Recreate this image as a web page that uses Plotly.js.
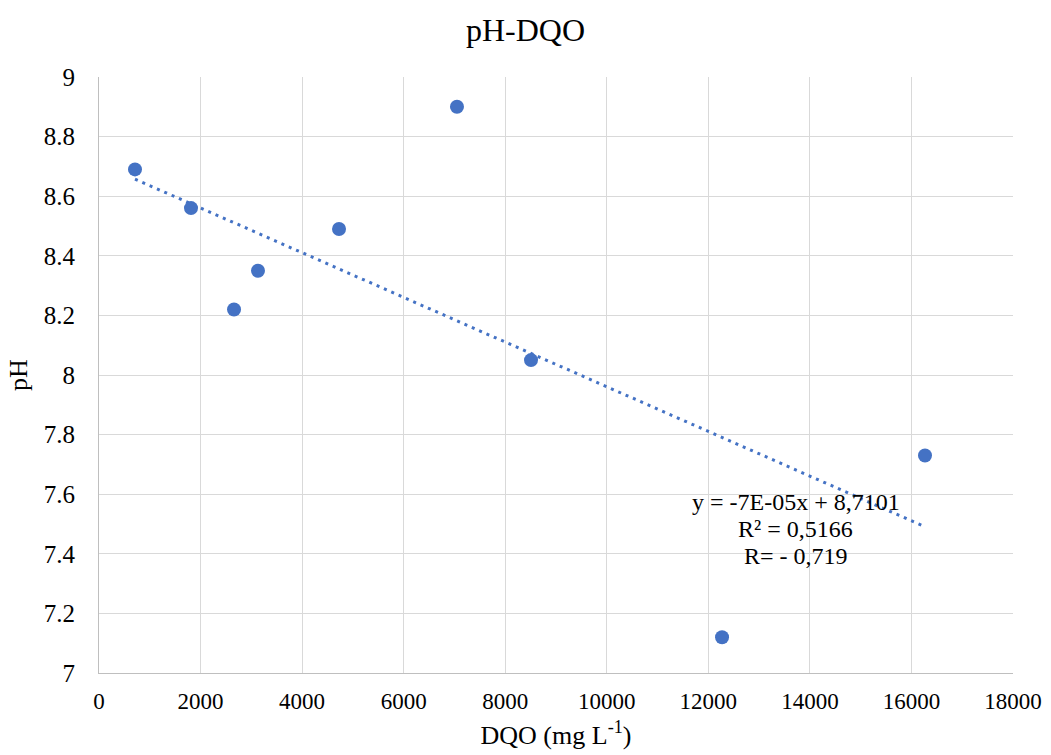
<!DOCTYPE html>
<html>
<head>
<meta charset="utf-8">
<script src="https://cdn.plot.ly/plotly-3.0.1.min.js"></script>
<style>html,body{margin:0;padding:0;background:#fff}#chart{width:1051px;height:755px}</style>
</head>
<body>
<div id="chart"></div>
<script>
const dqo = [709, 1812, 2659, 3131, 4727, 7050, 8508, 12270, 16267];
const ph = [8.69, 8.56, 8.22, 8.35, 8.49, 8.90, 8.05, 7.12, 7.73];
const xTicks = [0, 2000, 4000, 6000, 8000, 10000, 12000, 14000, 16000, 18000];
const yTicks = [7, 7.2, 7.4, 7.6, 7.8, 8, 8.2, 8.4, 8.6, 8.8, 9];
const eqLines = ['y = -7E-05x + 8,7101', 'R² = 0,5166', 'R= - 0,719'];

// least-squares trendline from data
const n = dqo.length;
const mx = dqo.reduce((a,b)=>a+b,0)/n;
const my = ph.reduce((a,b)=>a+b,0)/n;
let sxy=0, sxx=0;
for(let i=0;i<n;i++){sxy+=(dqo[i]-mx)*(ph[i]-my); sxx+=(dqo[i]-mx)**2;}
const slope = sxy/sxx, intercept = my - slope*mx;
const xmin = Math.min(...dqo), xmax = Math.max(...dqo);
const trendX = [xmin, xmax];
const trendY = trendX.map(x=>intercept+slope*x);

const font = 'Liberation Serif';
const blue = '#4472C4';
const traces = [
  {x: trendX, y: trendY, mode:'lines', line:{color:blue, width:3, dash:'3px,5px'}, hoverinfo:'skip'},
  {x: dqo, y: ph, mode:'markers', marker:{color:blue, size:14}}
];
const eqY = [7.574, 7.483, 7.393];
const annotations = eqLines.map((t,i)=>({x:13726, y:eqY[i], xref:'x', yref:'y', text:t, showarrow:false,
  font:{family:font, size:24, color:'#000'}, xanchor:'center', yanchor:'middle'}));
const layout = {
  width:1051, height:755,
  margin:{l:99, r:38, t:77, b:82},
  paper_bgcolor:'#fff', plot_bgcolor:'#fff',
  showlegend:false,
  font:{family:font, color:'#000', size:24},
  title:{text:'pH-DQO', font:{family:font, size:32, color:'#000'}, x:0.5, xanchor:'center', y:0.96, yanchor:'middle'},
  xaxis:{range:[0,18000], tickvals:xTicks, ticktext:xTicks.map(String), showgrid:true, gridcolor:'#d9d9d9', gridwidth:1,
    zeroline:false, showline:true, linecolor:'#bfbfbf', linewidth:1, ticks:'', ticklabelstandoff:7,
    tickfont:{family:font, size:23, color:'#000'},
    title:{text:'DQO (mg L<sup>-1</sup>)', font:{family:font, size:26, color:'#000'}, standoff:13}},
  yaxis:{range:[7,9], tickvals:yTicks, ticktext:yTicks.map(String), showgrid:true, gridcolor:'#d9d9d9', gridwidth:1,
    zeroline:false, showline:true, linecolor:'#bfbfbf', linewidth:1, ticks:'', ticklabelstandoff:18,
    tickfont:{family:font, size:25, color:'#000'},
    title:{text:'pH', font:{family:font, size:26, color:'#000'}, standoff:8}},
  annotations: annotations
};
Plotly.newPlot('chart', traces, layout, {displayModeBar:false, staticPlot:true});
</script>
</body>
</html>
